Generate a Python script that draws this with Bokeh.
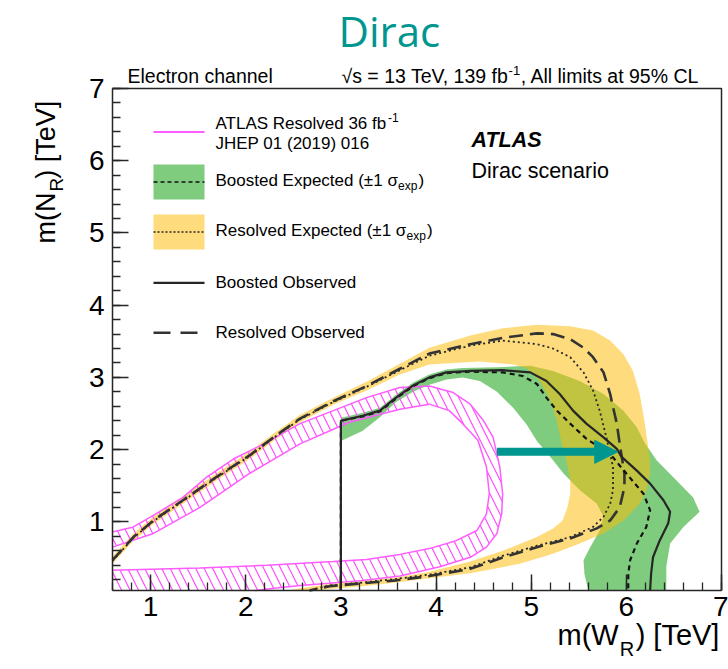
import math
from bokeh.plotting import figure
from bokeh.models import Label, Arrow, NormalHead, FixedTicker, Range1d, LinearAxis
from bokeh.embed import file_html
from bokeh.resources import INLINE

# ---------------- axis ranges (TeV) and ticks ----------------
X_MIN, X_MAX = 0.6, 7.0
Y_MIN, Y_MAX = 0.05, 7.0
x_major = [1, 2, 3, 4, 5, 6, 7]
y_major = [1, 2, 3, 4, 5, 6, 7]
x_minor = [round(0.6 + 0.2 * i, 1) for i in range(33)]
y_minor = [round(0.2 * i, 1) for i in range(1, 36)]

# ---------------- limit contours, m(W_R) vs m(N_R) in TeV ----------------
# Resolved observed (long dashed)
res_obs_x = [0.60, 0.82, 1.03, 1.34, 1.69, 2.04, 2.29, 2.57, 2.92, 3.27, 3.62, 3.93, 4.36, 4.71, 5.06,
             5.23, 5.41, 5.55, 5.65, 5.76, 5.83, 5.86, 5.90, 5.93, 5.98, 5.98, 5.93, 5.83, 5.69, 5.41,
             5.06, 4.71, 4.36, 3.93, 3.58, 3.23, 2.88, 2.67]
res_obs_y = [0.47, 0.79, 1.02, 1.30, 1.62, 1.92, 2.17, 2.43, 2.67, 2.88, 3.12, 3.33, 3.46, 3.55, 3.61,
             3.60, 3.53, 3.41, 3.28, 3.07, 2.77, 2.59, 2.36, 2.08, 1.67, 1.48, 1.20, 1.02, 0.91, 0.77,
             0.65, 0.51, 0.35, 0.25, 0.19, 0.15, 0.11, 0.05]

# Resolved expected (dotted)
res_exp_x = [0.60, 0.82, 1.03, 1.34, 1.69, 2.04, 2.29, 2.57, 2.92, 3.27, 3.62, 3.93, 4.36, 4.70, 5.06,
             5.23, 5.41, 5.55, 5.65, 5.72, 5.79, 5.86, 5.86, 5.83, 5.76, 5.65, 5.41, 5.06, 4.70, 4.36,
             3.93, 3.58, 3.23, 2.88, 2.67]
res_exp_y = [0.46, 0.78, 1.01, 1.29, 1.61, 1.91, 2.16, 2.42, 2.66, 2.87, 3.10, 3.30, 3.44, 3.51, 3.46,
             3.40, 3.28, 3.07, 2.82, 2.54, 2.17, 1.76, 1.44, 1.25, 1.07, 0.93, 0.79, 0.67, 0.53, 0.37,
             0.27, 0.21, 0.16, 0.12, 0.05]

# Resolved expected +-1 sigma band: outer and inner edges
res_hi_x = [0.60, 0.82, 1.03, 1.34, 1.69, 2.04, 2.29, 2.57, 2.92, 3.27, 3.62, 3.93, 4.36, 4.70, 5.06,
            5.41, 5.65, 5.83, 5.97, 6.07, 6.14, 6.19, 6.23, 6.25, 6.25, 6.21, 6.14, 5.97, 5.76, 5.51,
            5.23, 4.88, 4.53, 4.36, 3.93, 3.58, 3.23, 2.88, 2.75]
res_hi_y = [0.52, 0.84, 1.07, 1.35, 1.67, 1.97, 2.22, 2.48, 2.72, 2.94, 3.19, 3.41, 3.58, 3.68, 3.73,
            3.71, 3.65, 3.51, 3.32, 3.09, 2.77, 2.40, 2.03, 1.85, 1.67, 1.43, 1.25, 1.02, 0.84, 0.70,
            0.56, 0.42, 0.33, 0.29, 0.22, 0.16, 0.11, 0.07, 0.05]
res_lo_x = [0.60, 0.82, 1.03, 1.34, 1.69, 2.04, 2.29, 2.57, 2.92, 3.27, 3.62, 3.93, 4.46, 4.81, 4.95,
            5.09, 5.20, 5.27, 5.32, 5.37, 5.41, 5.41, 5.38, 5.33, 5.23, 5.06, 4.70, 4.36, 3.93, 3.58,
            3.23, 2.88, 2.57, 2.45]
res_lo_y = [0.42, 0.74, 0.97, 1.25, 1.57, 1.87, 2.12, 2.38, 2.62, 2.82, 3.04, 3.18, 3.22, 3.18, 3.13,
            2.95, 2.68, 2.40, 2.08, 1.85, 1.57, 1.39, 1.20, 1.02, 0.91, 0.79, 0.60, 0.45, 0.31, 0.23,
            0.18, 0.14, 0.08, 0.05]

# Boosted observed (solid)
boost_obs_x = [3.00, 3.00, 3.23, 3.41, 3.58, 3.76, 3.93, 4.11, 4.36, 4.70, 4.99, 5.16, 5.30, 5.44,
               5.58, 5.76, 5.90, 5.95, 6.11, 6.25, 6.39, 6.46, 6.44, 6.35, 6.28, 6.26, 6.25]
boost_obs_y = [0.05, 2.40, 2.47, 2.54, 2.72, 2.89, 3.00, 3.07, 3.09, 3.10, 3.07, 2.95, 2.77, 2.54,
               2.36, 2.17, 2.01, 1.90, 1.71, 1.53, 1.30, 1.14, 0.98, 0.74, 0.51, 0.28, 0.05]

# Boosted expected (short dashed)
boost_exp_x = [3.00, 3.00, 3.23, 3.41, 3.58, 3.76, 3.93, 4.11, 4.36, 4.70, 4.91, 5.06, 5.16, 5.27,
               5.41, 5.58, 5.83, 6.00, 6.18, 6.25, 6.21, 6.11, 6.04, 6.02, 6.02]
boost_exp_y = [0.05, 2.40, 2.46, 2.53, 2.71, 2.88, 2.99, 3.06, 3.08, 3.07, 3.02, 2.91, 2.72, 2.54,
               2.36, 2.15, 1.94, 1.67, 1.39, 1.16, 0.93, 0.70, 0.47, 0.28, 0.05]

# Boosted expected +-1 sigma band: outer and inner edges
boost_hi_x = [3.00, 3.23, 3.41, 3.58, 3.76, 3.93, 4.11, 4.28, 4.64, 4.99, 5.23, 5.51, 5.76, 5.97,
              6.11, 6.19, 6.32, 6.53, 6.70, 6.77, 6.60, 6.46, 6.42, 6.42]
boost_hi_y = [2.44, 2.51, 2.58, 2.76, 2.93, 3.04, 3.11, 3.13, 3.14, 3.16, 3.09, 2.95, 2.77, 2.54,
              2.31, 2.10, 1.85, 1.57, 1.34, 1.14, 0.93, 0.70, 0.38, 0.05]
boost_lo_x = [3.00, 3.23, 3.41, 3.58, 3.76, 3.93, 4.11, 4.28, 4.46, 4.64, 4.81, 4.95, 5.06, 5.20,
              5.34, 5.51, 5.69, 5.76, 5.72, 5.62, 5.55, 5.56, 5.60]
boost_lo_y = [2.12, 2.26, 2.45, 2.66, 2.80, 2.90, 2.97, 3.00, 2.95, 2.80, 2.58, 2.35, 2.12, 1.90,
              1.67, 1.44, 1.25, 1.07, 0.88, 0.65, 0.47, 0.28, 0.05]

# Previous ATLAS resolved result (36 fb-1): outer and inner edges of the excluded ring
atlas36_out_x = [0.60, 0.82, 1.03, 1.34, 1.59, 1.87, 2.22, 2.57, 2.92, 3.27, 3.62, 3.93, 4.18, 4.36,
                 4.50, 4.60, 4.67, 4.70, 4.69, 4.64, 4.53, 4.36, 4.04, 3.62, 3.23, 2.88, 2.57, 2.30, 2.10]
atlas36_out_y = [0.86, 0.93, 1.09, 1.34, 1.62, 1.87, 2.10, 2.36, 2.54, 2.72, 2.86, 2.88, 2.79, 2.63,
                 2.40, 2.17, 1.76, 1.39, 1.11, 0.84, 0.65, 0.51, 0.38, 0.25, 0.19, 0.15, 0.12, 0.08, 0.05]
atlas36_in_x = [0.60, 1.52, 2.22, 2.92, 3.27, 3.62, 3.93, 4.21, 4.43, 4.53, 4.56, 4.53, 4.44, 4.28,
                4.14, 3.93, 3.62, 3.09, 2.57, 2.04, 1.52, 1.03, 0.60]
atlas36_in_y = [0.33, 0.36, 0.40, 0.45, 0.48, 0.55, 0.63, 0.74, 0.88, 1.11, 1.39, 1.76, 2.13, 2.36,
                2.54, 2.63, 2.56, 2.38, 2.08, 1.67, 1.20, 0.84, 0.65]

# Highlight arrow (TeV)
arrow_x = [4.64, 5.91]
arrow_y = [1.97, 1.97]

# ---------------- styling ----------------
TEAL = "#009690"
GREEN = "#7fcc7f"
YELLOW = "#fdbc05"
YELLOW_ALPHA = 0.52
PINK = "#ff5cff"
PINK_HATCH = "#ff4dff"
LINE = "#262626"
FONT = "Liberation Sans"

W, H = 728, 669
FL, FR, FT, FB = 112, 721, 88, 590   # edges of the axes box in canvas pixels
PPX = (X_MAX - X_MIN) / (FR - FL)     # TeV per pixel
PPY = (Y_MAX - Y_MIN) / (FB - FT)
MID = 0.3465                          # em-box middle above the baseline (Liberation Sans)


def dx(px):
    return X_MIN + (px - FL) * PPX


def dy(py):
    return Y_MAX - (py - FT) * PPY


# Arial/Liberation Sans advance widths (1/1000 em) for composing sub/superscripts
ADV = {" ": 278, "(": 333, ")": 333, ",": 278, "-": 333, ".": 278, "%": 889, "=": 584, "±": 549,
       "[": 278, "]": 278, "√": 549, "σ": 600,
       "A": 667, "B": 667, "C": 722, "D": 722, "E": 667, "H": 722, "J": 500, "L": 556, "N": 722,
       "O": 778, "P": 667, "R": 722, "S": 667, "T": 611, "V": 667, "W": 944,
       "a": 556, "b": 556, "c": 500, "d": 556, "e": 556, "f": 278, "h": 556, "i": 222, "l": 222,
       "m": 833, "n": 556, "o": 556, "p": 556, "r": 333, "s": 500, "t": 278, "v": 500, "x": 500}


def tw(s, size):
    return sum(ADV.get(c, 556) for c in s) / 1000.0 * size


# The plotting frame spans the whole canvas; the axes are pinned to the box edges.
p = figure(width=W, height=H,
           x_range=Range1d(dx(0), dx(W)), y_range=Range1d(dy(H), dy(0)),
           output_backend="svg", toolbar_location=None,
           x_axis_location=None, y_axis_location=None,
           min_border=0, min_border_left=0, min_border_right=0,
           min_border_top=0, min_border_bottom=0)
p.grid.visible = False
p.background_fill_color = "white"
p.border_fill_color = "white"
p.outline_line_color = None

xax = LinearAxis(fixed_location=Y_MIN, bounds=(X_MIN, X_MAX),
                 ticker=FixedTicker(ticks=x_major, minor_ticks=x_minor))
yax = LinearAxis(fixed_location=X_MIN, bounds=(Y_MIN, Y_MAX),
                 ticker=FixedTicker(ticks=y_major, minor_ticks=y_minor))
for ax in (xax, yax):
    ax.major_tick_in = 16
    ax.major_tick_out = 0
    ax.minor_tick_in = 8
    ax.minor_tick_out = 0
    ax.major_tick_line_color = LINE
    ax.major_tick_line_width = 1.5
    ax.minor_tick_line_color = LINE
    ax.minor_tick_line_width = 1.3
    ax.axis_line_color = LINE
    ax.axis_line_width = 1.5
    ax.major_label_text_font = FONT
    ax.major_label_text_font_size = "28px"
    ax.major_label_text_color = "black"
xax.major_label_standoff = 6
yax.major_label_standoff = 8
p.add_layout(xax, "below")
p.add_layout(yax, "left")

# bands
p.patch(boost_hi_x + boost_lo_x[::-1], boost_hi_y + boost_lo_y[::-1],
        fill_color=GREEN, line_color=None)
p.patch(res_hi_x + res_lo_x[::-1], res_hi_y + res_lo_y[::-1],
        fill_color=YELLOW, fill_alpha=YELLOW_ALPHA, line_color=None)

# previous-result ring, hatched
p.patch(atlas36_out_x + [atlas36_in_x[0]] + atlas36_in_x,
        atlas36_out_y + [Y_MIN] + atlas36_in_y,
        fill_color=None, line_color=None,
        hatch_pattern="\\", hatch_color=PINK_HATCH, hatch_scale=17, hatch_weight=1.2)
p.line(atlas36_out_x, atlas36_out_y, line_color=PINK, line_width=1.5)
p.line(atlas36_in_x, atlas36_in_y, line_color=PINK, line_width=1.5)

# contours
p.line(res_exp_x, res_exp_y, line_color=LINE, line_width=1.8, line_dash="2 3")
p.line(res_obs_x, res_obs_y, line_color="#333333", line_width=2.6, line_dash="14 7")
p.line(boost_exp_x, boost_exp_y, line_color="#111111", line_width=2.2, line_dash="5 4")
p.line(boost_obs_x, boost_obs_y, line_color=LINE, line_width=2.2)

# top and right edges of the axes box
p.line([X_MIN, X_MAX, X_MAX], [Y_MAX, Y_MAX, Y_MIN], line_color=LINE, line_width=1.5)

# arrow
p.add_layout(Arrow(end=NormalHead(size=23, fill_color=TEAL, line_color=TEAL, line_width=1),
                   x_start=arrow_x[0], y_start=arrow_y[0], x_end=arrow_x[1], y_end=arrow_y[1],
                   line_color=TEAL, line_width=8))


def add_text(px, py, text, size, font=FONT, color="black", style="normal", vertical=False):
    """Place text whose alphabetic baseline starts at canvas pixel (px, py)."""
    shift = MID * size
    if vertical:
        cx, cy, angle = px - shift, py, math.pi / 2
    else:
        cx, cy, angle = px, py - shift, 0.0
    p.add_layout(Label(x=dx(cx), y=dy(cy), text=text, text_font=font,
                       text_font_size=f"{size}px", text_color=color, text_font_style=style,
                       text_baseline="middle", text_align="left", angle=angle))


# title
add_text(338, 45, "Dirac", 42, font="Open Sans", color=TEAL)

# header line above the box
add_text(127, 82, "Electron channel", 19.5)
hdr_a = "√s = 13 TeV, 139 fb"
hdr_x = 341
add_text(hdr_x, 82, hdr_a, 19.5)
sup_x = hdr_x + tw(hdr_a, 19.5) - 3.5
add_text(sup_x, 75, "-1", 13)
add_text(sup_x + tw("-1", 13) + 0.5, 82, ", All limits at 95% CL", 19.5)

# ATLAS label
add_text(471, 147, "ATLAS", 21.5, style="bold italic")
add_text(471, 178, "Dirac scenario", 21.5)

# legend
LX0, LX1, LT = 153, 204, 215
LS = 17
p.line([dx(LX0), dx(LX1)], [dy(131.5), dy(131.5)], line_color=PINK, line_width=2)
t1 = "ATLAS Resolved 36 fb"
add_text(LT, 128.5, t1, LS)
add_text(LT + tw(t1, LS) + 0.5, 121.5, "-1", 12)
add_text(LT, 148.5, "JHEP 01 (2019) 016", LS)

p.quad(left=[dx(LX0)], right=[dx(LX1)], top=[dy(164)], bottom=[dy(199)],
       fill_color=GREEN, line_color=None)
p.line([dx(LX0), dx(LX1)], [dy(181.5), dy(181.5)], line_color="#111111", line_width=1.6,
       line_dash="4 3")
p.quad(left=[dx(LX0)], right=[dx(LX1)], top=[dy(214)], bottom=[dy(249)],
       fill_color=YELLOW, fill_alpha=YELLOW_ALPHA, line_color=None)
p.line([dx(LX0), dx(LX1)], [dy(231.5), dy(231.5)], line_color=LINE, line_width=1.3,
       line_dash="2 2")

for label, base in (("Boosted Expected (±1 σ", 185.5), ("Resolved Expected (±1 σ", 235.5)):
    add_text(LT, base, label, LS)
    sx = LT + tw(label, LS) + 0.5
    add_text(sx, base + 4, "exp", 12)
    add_text(sx + tw("exp", 12) + 1, base, ")", LS)

p.line([dx(LX0), dx(LX1)], [dy(282.3), dy(282.3)], line_color=LINE, line_width=2.2)
add_text(LT, 288.3, "Boosted Observed", LS)
p.line([dx(LX0), dx(LX1)], [dy(332.3), dy(332.3)], line_color="#333333", line_width=2.6,
       line_dash="17 10")
add_text(LT, 338.3, "Resolved Observed", LS)

# x axis title: m(W_R) [TeV]
XL = 29
xa = "m(W"
add_text(557, 645, xa, XL)
xr = 557 + tw(xa, XL) + 1
add_text(xr, 655, "R", 20)
add_text(xr + tw("R", 20) + 1.5, 645, ") [TeV]", XL)

# y axis title: m(N_R) [TeV], rotated
YL = 27
ya = "m(N"
add_text(55, 243, ya, YL, vertical=True)
yr = 243 - tw(ya, YL) - 1
add_text(63, yr, "R", 19, vertical=True)
add_text(55, yr - tw("R", 19) + 1, ") [TeV]", YL, vertical=True)

open("out.html", "w").write(file_html(p, INLINE))
